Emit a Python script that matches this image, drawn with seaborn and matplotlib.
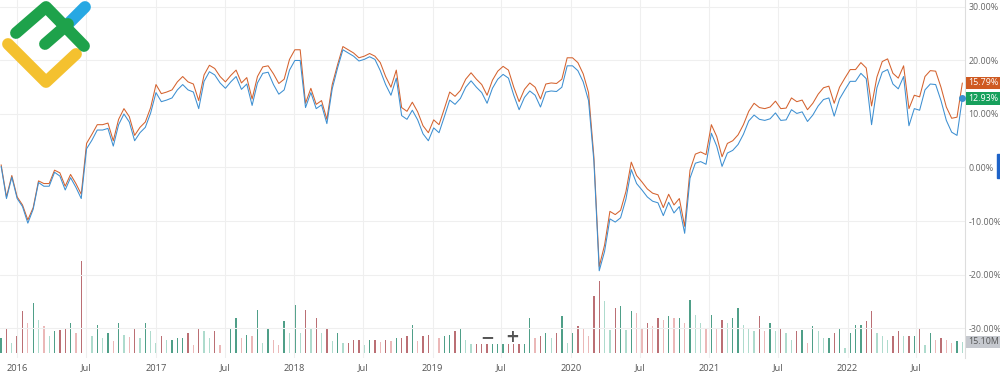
import matplotlib
matplotlib.use("Agg")
import matplotlib.pyplot as plt
import matplotlib.transforms as mtransforms
from matplotlib.patches import Rectangle
import pandas as pd
import seaborn as sns

# % de variacion acumulada, muestreo cada ~2 semanas
serie_naranja = [
    0.5, -5.5, -1.5, -5.5, -7.0, -9.8, -7.5, -2.5, -3.0, -3.0,
    -0.5, -1.0, -3.5, -1.3, -3.0, -5.0, 4.5, 6.2, 8.0, 8.0,
    8.3, 5.0, 9.0, 11.0, 9.5, 6.0, 7.5, 8.5, 11.2, 15.5,
    13.8, 14.1, 14.5, 16.0, 17.0, 16.0, 15.6, 12.5, 17.3, 19.1,
    18.5, 17.0, 16.0, 17.2, 18.2, 15.8, 16.8, 12.8, 17.0, 18.8,
    19.0, 17.5, 15.7, 16.5, 20.2, 22.0, 22.0, 12.0, 14.8, 11.8,
    12.5, 9.0, 15.5, 19.2, 22.6, 22.0, 21.4, 20.5, 20.8, 21.3,
    20.8, 19.6, 17.0, 15.0, 18.2, 11.2, 10.5, 12.2, 10.4, 7.8,
    6.5, 8.9, 8.0, 11.0, 14.1, 13.3, 14.4, 16.5, 17.7, 16.5,
    15.5, 13.5, 16.3, 18.0, 18.9, 18.2, 15.0, 12.3, 14.6, 15.8,
    15.0, 12.8, 15.6, 15.8, 15.7, 16.5, 20.5, 20.5, 19.6, 17.5,
    14.0, 2.0, -18.5, -14.5, -8.2, -8.8, -8.0, -4.5, 1.0, -1.5,
    -2.7, -4.0, -4.8, -5.1, -7.5, -5.0, -7.0, -5.8, -11.0, -0.5,
    2.5, 2.9, 2.4, 8.0, 5.8, 2.0, 4.5, 5.0, 6.1, 8.0,
    10.5, 12.0, 11.2, 11.0, 11.3, 12.4, 11.0, 11.1, 13.0, 12.3,
    12.6, 10.8, 12.0, 13.7, 14.9, 15.2, 12.0, 15.0, 16.7, 18.3,
    18.3, 19.6, 18.6, 11.5, 16.9, 19.8, 20.3, 17.6, 16.7, 19.0,
    11.0, 13.5, 13.2, 17.0, 18.1, 18.0, 15.0, 11.3, 9.2, 9.4,
    15.79,
]
serie_azul = [
    0.2, -5.8, -1.8, -5.8, -7.3, -10.4, -7.8, -2.8, -3.5, -3.5,
    -0.9, -1.6, -4.2, -1.9, -3.7, -5.8, 3.5, 5.1, 7.0, 7.0,
    7.3, 4.0, 8.0, 10.0, 8.5, 5.0, 6.5, 7.5, 10.2, 14.0,
    12.3, 12.6, 13.0, 14.5, 15.5, 14.5, 14.1, 11.0, 16.1, 17.9,
    17.3, 15.8, 14.8, 16.0, 17.0, 14.6, 15.6, 11.6, 15.8, 17.6,
    17.8, 15.5, 13.7, 14.5, 18.2, 20.0, 20.0, 11.2, 14.0, 11.0,
    11.7, 8.2, 14.7, 18.6, 22.0, 21.4, 20.8, 19.9, 20.2, 20.7,
    20.2, 18.1, 15.5, 13.5, 16.7, 9.7, 9.0, 10.7, 8.9, 6.3,
    5.0, 7.4, 6.5, 9.5, 12.6, 11.8, 12.9, 15.0, 16.2, 15.0,
    14.0, 12.0, 14.8, 16.5, 17.4, 16.7, 13.5, 10.8, 13.1, 14.3,
    13.5, 11.3, 14.1, 14.3, 14.2, 15.0, 19.0, 19.0, 18.1, 16.0,
    12.5, 1.2, -19.3, -15.7, -9.6, -10.2, -9.4, -5.9, -0.4, -3.0,
    -4.2, -5.5, -6.3, -6.6, -9.0, -6.5, -8.5, -7.3, -12.3, -2.0,
    0.8, 1.1, 0.6, 6.4, 4.0, 0.2, 2.7, 3.2, 4.3, 6.2,
    8.7, 9.8, 9.0, 8.8, 9.1, 10.2, 8.8, 8.9, 10.8, 10.1,
    10.4, 8.6, 9.8, 11.5, 12.7, 13.0, 9.6, 12.8, 14.5, 16.1,
    16.1, 17.6, 16.6, 8.0, 14.9, 17.8, 18.3, 15.6, 14.7, 17.0,
    7.8, 11.0, 10.7, 14.5, 15.6, 15.5, 12.5, 8.8, 6.6, 6.0,
    12.93,
]
# volumen en millones
volumen_m = [
    21, 33, 14, 23, 58, 41, 68, 45, 37, 23,
    30, 32, 34, 41, 27, 126, 58, 23, 38, 21,
    27, 16, 41, 25, 22, 34, 21, 41, 30, 14,
    23, 18, 18, 21, 21, 27, 11, 33, 30, 21,
    30, 11, 25, 34, 48, 21, 25, 23, 59, 14,
    34, 18, 11, 44, 27, 66, 27, 59, 34, 48,
    27, 34, 16, 27, 14, 14, 18, 18, 11, 18,
    18, 15, 18, 16, 21, 21, 23, 38, 16, 23,
    25, 23, 21, 23, 25, 30, 34, 18, 12, 12,
    12, 12, 12, 12, 12, 12, 12, 12, 12, 48,
    21, 23, 27, 21, 27, 51, 14, 27, 37, 34,
    23, 78, 99, 71, 32, 62, 64, 32, 58, 55,
    34, 41, 37, 48, 45, 51, 48, 48, 41, 73,
    52, 41, 34, 52, 34, 45, 41, 48, 62, 38,
    34, 30, 51, 30, 41, 30, 34, 27, 18, 30,
    32, 14, 37, 30, 21, 21, 27, 34, 7, 27,
    38, 38, 44, 58, 27, 23, 18, 23, 30, 23,
    23, 23, 34, 11, 27, 18, 21, 18, 14, 16,
    15.1,
]
fechas = pd.date_range("2015-11-19", "2022-10-31", periods=len(serie_naranja))

ticks_fechas = pd.to_datetime([f"{a}-{m}-01" for a in range(2016, 2023) for m in (1, 7)])
ticks_textos = [t for a in range(2016, 2023) for t in (str(a), "Jul")]
ticks_y = [-30, -20, -10, 0, 10, 20, 30]

C_NARANJA = "#d4622e"
C_AZUL = "#3d8fd1"
TAM = 6.4

sns.set_theme(style="white")
plt.rcParams["font.family"] = ["Open Sans", "DejaVu Sans"]

fig = plt.figure(figsize=(10, 3.79), dpi=100)
ax = fig.add_axes([0, 21 / 379, 0.965, 358 / 379])
vol = fig.add_axes([0, 26 / 379, 0.965, 100 / 379])
vol.set_zorder(0)
ax.set_zorder(1)
ax.patch.set_visible(False)

# volumen
colores = []
for i, v in enumerate(volumen_m):
    sube = i == 0 or serie_naranja[i] >= serie_naranja[i - 1]
    fuerte = i == 0 or v >= volumen_m[i - 1]
    if sube:
        colores.append("#4f9f88" if fuerte else "#aedbcd")
    else:
        colores.append("#bb6f74" if fuerte else "#ebb8b8")
vol.bar(fechas, volumen_m, width=3.5, color=colores, linewidth=0)
vol.set_ylim(0, 137)
vol.axis("off")

# lineas
sns.lineplot(x=fechas, y=serie_naranja, color=C_NARANJA, lw=0.75, ax=ax)
sns.lineplot(x=fechas, y=serie_azul, color=C_AZUL, lw=0.75, ax=ax)
ax.plot(fechas[-1], serie_azul[-1], "o", color=C_AZUL, ms=4, zorder=5)

xlim = (pd.Timestamp("2015-11-16"), pd.Timestamp("2022-11-07"))
ax.set_xlim(xlim)
vol.set_xlim(xlim)
ax.set_ylim(-35.6, 31.3)
ax.set_yticks(ticks_y)
ax.set_yticklabels([f"{v:.2f}%" for v in ticks_y])
ax.set_xticks(ticks_fechas)
ax.set_xticklabels(ticks_textos)
ax.yaxis.tick_right()
ax.grid(True, color="#efefef", lw=0.8)
ax.tick_params(axis="y", length=0, pad=2.5, labelsize=TAM, labelcolor="#666666")
ax.tick_params(axis="x", length=0, pad=4, labelsize=TAM + 0.3, labelcolor="#555555")
for lado in ["left", "top", "bottom"]:
    ax.spines[lado].set_visible(False)
ax.spines["right"].set_color("#dddddd")
ax.spines["right"].set_linewidth(0.8)
ax.set_xlabel("")
ax.set_ylabel("")

# etiquetas de ultimo valor
trans = mtransforms.blended_transform_factory(ax.transAxes, ax.transData)
caja = dict(boxstyle="square,pad=0.22", ec="none")
ax.text(1.0035, serie_naranja[-1], f"{serie_naranja[-1]:.2f}%", transform=trans,
        ha="left", va="center", fontsize=TAM, color="white", clip_on=False,
        bbox=dict(caja, fc="#cf5a22"))
ax.text(1.0035, serie_azul[-1], f"{serie_azul[-1]:.2f}%", transform=trans,
        ha="left", va="center", fontsize=TAM, color="white", clip_on=False,
        bbox=dict(caja, fc="#17a05c"))
trans_v = mtransforms.blended_transform_factory(vol.transAxes, vol.transData)
vol.text(1.0035, volumen_m[-1], f"{volumen_m[-1]:.2f}M", transform=trans_v,
         ha="left", va="center", fontsize=TAM, color="#555555", clip_on=False,
         bbox=dict(caja, fc="#c5c8ce"))

# capa de adornos en pixeles (logo, zoom, marcador)
capa = fig.add_axes([0, 0, 1, 1])
capa.set_xlim(0, 1000)
capa.set_ylim(379, 0)
capa.axis("off")
capa.set_zorder(3)
kw = dict(lw=8.5, solid_capstyle="round", solid_joinstyle="round")
capa.plot([8, 46, 76], [44, 82, 54], color="#f4c12f", **kw)
capa.plot([68, 85], [24, 7], color="#27a8e3", **kw)
capa.plot([16, 46, 84], [33, 7, 46], color="#1ea24b", **kw)
capa.plot([45, 68], [44, 24], color="#1ea24b", **kw)
capa.text(487, 337, "\u2212", ha="center", va="center", fontsize=12,
          color="#555555", fontweight="bold", family="DejaVu Sans")
capa.text(512, 337, "+", ha="center", va="center", fontsize=12,
          color="#555555", fontweight="bold", family="DejaVu Sans")
capa.add_patch(Rectangle((997, 154), 3, 24, color="#1e63c8"))

fig.savefig("out.png", dpi=100)
